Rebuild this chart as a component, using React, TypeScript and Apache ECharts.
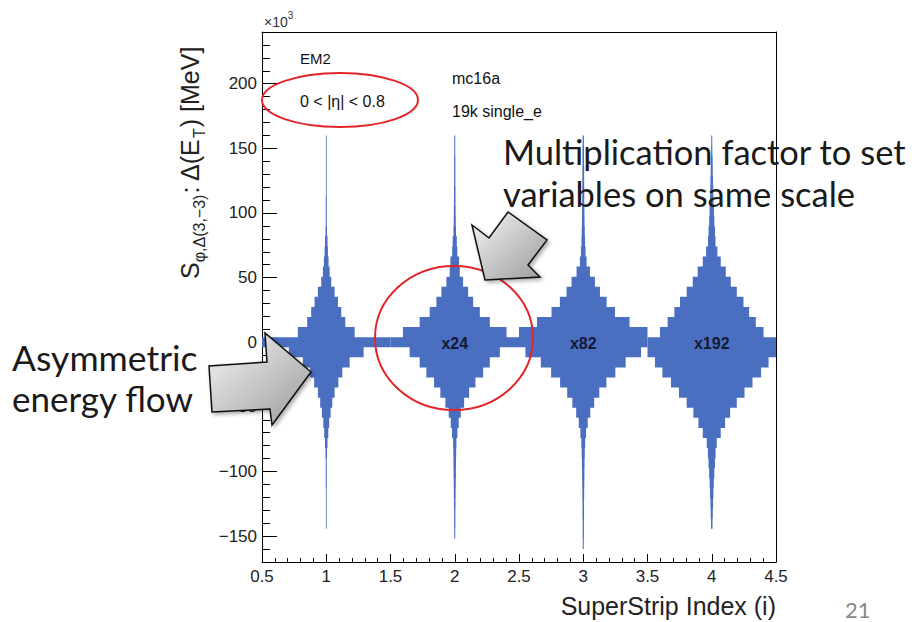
import React, { useEffect, useRef } from 'react';
import * as echarts from 'echarts';

// Super-strip positions (x) and the multiplication factors written on them
const superStrips = [1, 2, 3, 4];
const factorLabels = ['', 'x24', 'x82', 'x192'];

// y bins of the violin histograms (units of 10^3 MeV), top to bottom
const BIN_WIDTH = 7.8;
const binCenters = [
  156, 148.2, 140.4, 132.6, 124.8, 117, 109.2, 101.4, 93.6, 85.8,
  78, 70.2, 62.4, 54.6, 46.8, 39, 31.2, 23.4, 15.6, 7.8,
  0,
  -7.8, -15.6, -23.4, -31.2, -39, -46.8, -54.6, -62.4, -70.2, -78,
  -85.8, -93.6, -101.4, -109.2, -117, -124.8, -132.6, -140.4, -148.2, -156,
];

// half widths of each violin per bin (x units)
const strip1 = [
  0.003, 0.003, 0.003, 0.003, 0.003, 0.003, 0.004, 0.004, 0.004, 0.006,
  0.010, 0.013, 0.018, 0.026, 0.039, 0.065, 0.091, 0.117, 0.148, 0.221,
  0.5,
  0.291, 0.182, 0.125, 0.094, 0.065, 0.047, 0.034, 0.023, 0.016, 0.010,
  0.006, 0.004, 0.004, 0.004, 0.003, 0.003, 0.003, 0.003, 0, 0,
];
const strip2 = [
  0.004, 0.004, 0.005, 0.005, 0.005, 0.006, 0.006, 0.007, 0.008, 0.010,
  0.016, 0.020, 0.034, 0.039, 0.065, 0.104, 0.143, 0.195, 0.273, 0.403,
  0.5,
  0.351, 0.273, 0.221, 0.161, 0.112, 0.073, 0.047, 0.031, 0.021, 0.013,
  0.011, 0.010, 0.009, 0.008, 0.007, 0.006, 0.005, 0.005, 0.004, 0,
];
const strip3 = [
  0.005, 0.006, 0.006, 0.007, 0.007, 0.008, 0.008, 0.009, 0.010, 0.012,
  0.014, 0.018, 0.026, 0.052, 0.091, 0.130, 0.182, 0.247, 0.360, 0.5,
  0.5,
  0.45, 0.33, 0.25, 0.18, 0.125, 0.085, 0.055, 0.035, 0.022, 0.015,
  0.012, 0.010, 0.009, 0.008, 0.007, 0.006, 0.006, 0.005, 0.005, 0.004,
];
const strip4 = [
  0.004, 0.005, 0.007, 0.008, 0.010, 0.012, 0.014, 0.017, 0.020, 0.025,
  0.029, 0.044, 0.070, 0.109, 0.148, 0.195, 0.247, 0.291, 0.343, 0.403,
  0.5,
  0.5, 0.442, 0.384, 0.317, 0.255, 0.195, 0.143, 0.104, 0.070, 0.039,
  0.030, 0.025, 0.020, 0.016, 0.013, 0.010, 0.008, 0.006, 0, 0,
];
const violinWidths = [strip1, strip2, strip3, strip4];

const BLUE = '#4a6fc1';
const HELV = '"Liberation Sans", Arial, sans-serif';
const CAL = 'Lato, "Open Sans", sans-serif';

function textWidth(text: string, size: number, family: string, weight = 'normal') {
  const c = document.createElement('canvas').getContext('2d');
  if (!c) return text.length * size * 0.55;
  c.font = `${weight} ${size}px ${family}`;
  return c.measureText(text).width;
}

function yTitle() {
  const F = 25;
  const FS = 16;
  const pieces = [
    { t: 'S', s: F, sub: false },
    { t: 'φ,Δ(3,−3)', s: FS, sub: true },
    { t: ': Δ(E', s: F, sub: false },
    { t: 'T', s: FS, sub: true },
    { t: ') [MeV]', s: F, sub: false },
  ];
  let x = 0;
  const children: any[] = [];
  pieces.forEach((p) => {
    children.push({
      type: 'text',
      x,
      y: p.sub ? 9 : 0,
      style: {
        text: p.t,
        font: `${p.s}px ${HELV}`,
        fill: '#222',
        align: 'left',
        verticalAlign: 'middle',
      },
    });
    x += textWidth(p.t, p.s, HELV) + (p.sub ? 1 : 0);
  });
  return {
    type: 'group',
    x: 190,
    y: 279,
    rotation: Math.PI / 2,
    children,
    z: 50,
  };
}

function arrowFill() {
  return {
    type: 'linear',
    x: 0,
    y: 0,
    x2: 1,
    y2: 1,
    colorStops: [
      { offset: 0, color: '#f6f6f6' },
      { offset: 1, color: '#9a9a9a' },
    ],
  };
}

const AXIS_LINE = { show: true, onZero: false, lineStyle: { color: '#000', width: 1 } };

export default function App() {
  const ref = useRef<HTMLDivElement>(null);

  useEffect(() => {
    if (!ref.current) return;
    const chart = echarts.init(ref.current, null, { renderer: 'svg' });

    const seriesData = superStrips.map((x, i) => [x, i]);

    const option: any = {
      animation: false,
      backgroundColor: '#ffffff',
      grid: { left: 262, right: 142, top: 32, bottom: 60, containLabel: false },
      xAxis: [
        {
          type: 'value',
          min: 0.5,
          max: 4.5,
          interval: 0.5,
          position: 'bottom',
          axisLine: AXIS_LINE,
          axisTick: { show: true, inside: true, length: 8, lineStyle: { color: '#000' } },
          minorTick: { show: true, splitNumber: 5, length: 4, lineStyle: { color: '#000' } },
          axisLabel: { fontFamily: HELV, fontSize: 17, color: '#222', margin: 6 },
          splitLine: { show: false },
        },
        {
          type: 'value',
          min: 0.5,
          max: 4.5,
          position: 'top',
          axisLine: AXIS_LINE,
          axisTick: { show: false },
          axisLabel: { show: false },
          splitLine: { show: false },
        },
      ],
      yAxis: [
        {
          type: 'value',
          min: -170,
          max: 240,
          interval: 10,
          position: 'left',
          axisLine: AXIS_LINE,
          axisTick: { show: true, inside: true, length: 8, lineStyle: { color: '#000' } },
          axisLabel: { show: false },
          splitLine: { show: false },
        },
        {
          type: 'value',
          min: -170,
          max: 240,
          splitNumber: 8,
          position: 'left',
          offset: 0,
          axisLine: { show: false, onZero: false },
          axisTick: { show: true, inside: true, length: 15, lineStyle: { color: '#000' } },
          axisLabel: {
            fontFamily: HELV,
            fontSize: 17,
            color: '#222',
            margin: 5,
            formatter: (v: number) =>
              Math.abs(v % 50) < 1e-6 ? (v < 0 ? '\u2212' + Math.abs(v) : String(v)) : '',
          },
          splitLine: { show: false },
        },
        {
          type: 'value',
          min: -170,
          max: 240,
          position: 'right',
          axisLine: AXIS_LINE,
          axisTick: { show: false },
          axisLabel: { show: false },
          splitLine: { show: false },
        },
      ],
      series: [
        {
          type: 'custom',
          xAxisIndex: 0,
          yAxisIndex: 0,
          clip: true,
          data: seriesData,
          renderItem: (_params: any, api: any) => {
            const xc = api.value(0) as number;
            const idx = api.value(1) as number;
            const w = violinWidths[idx];
            let first = 0;
            while (first < w.length && !(w[first] > 0)) first++;
            let last = w.length - 1;
            while (last >= 0 && !(w[last] > 0)) last--;
            const right: number[][] = [];
            const left: number[][] = [];
            for (let i = first; i <= last; i++) {
              const hw = w[i];
              const top = binCenters[i] + BIN_WIDTH / 2;
              const bot = binCenters[i] - BIN_WIDTH / 2;
              right.push(api.coord([xc + hw, top]), api.coord([xc + hw, bot]));
              left.push(api.coord([xc - hw, top]), api.coord([xc - hw, bot]));
            }
            const points = right.concat(left.reverse());
            const c = api.coord([xc, 0]);
            return {
              type: 'group',
              children: [
                { type: 'polygon', shape: { points }, style: { fill: BLUE } },
                {
                  type: 'text',
                  x: c[0],
                  y: c[1] + 1,
                  style: {
                    text: factorLabels[idx],
                    font: `bold 16px ${HELV}`,
                    fill: '#141a33',
                    align: 'center',
                    verticalAlign: 'middle',
                  },
                },
              ],
            };
          },
        },
      ],
      graphic: [
        // x10^3 exponent
        { type: 'text', x: 264, y: 22, z: 50, style: { text: '×10', font: `14px ${HELV}`, fill: '#333', verticalAlign: 'middle' } },
        { type: 'text', x: 264 + textWidth('×10', 14, HELV), y: 15, z: 50, style: { text: '3', font: `10px ${HELV}`, fill: '#333', verticalAlign: 'middle' } },
        yTitle(),
        // x axis title
        { type: 'text', x: 776, y: 606, z: 50, style: { text: 'SuperStrip Index (i)', font: `25px ${HELV}`, fill: '#222', align: 'right', verticalAlign: 'middle' } },
        // legend-like labels
        { type: 'text', x: 300, y: 58, z: 50, style: { text: 'EM2', font: `15px ${HELV}`, fill: '#111', verticalAlign: 'middle' } },
        { type: 'text', x: 300, y: 101, z: 50, style: { text: '0 < |η| < 0.8', font: `16px ${HELV}`, fill: '#111', verticalAlign: 'middle' } },
        { type: 'text', x: 452, y: 78, z: 50, style: { text: 'mc16a', font: `16px ${HELV}`, fill: '#111', verticalAlign: 'middle' } },
        { type: 'text', x: 452, y: 111, z: 50, style: { text: '19k single_e', font: `16px ${HELV}`, fill: '#111', verticalAlign: 'middle' } },
        // red ellipses
        { type: 'ellipse', z: 60, shape: { cx: 340, cy: 100, rx: 78, ry: 27 }, style: { fill: 'none', stroke: '#e0262b', lineWidth: 2 } },
        { type: 'ellipse', z: 60, shape: { cx: 454, cy: 338, rx: 79, ry: 72 }, style: { fill: 'none', stroke: '#e0262b', lineWidth: 2 } },
        // block arrows
        {
          type: 'polygon',
          z: 70,
          shape: { points: [[311, 372], [272, 425], [270, 409], [212, 412], [209, 366], [267, 362], [265, 333]] },
          style: { fill: arrowFill(), stroke: '#111', lineWidth: 1.5, shadowBlur: 4, shadowColor: 'rgba(0,0,0,0.35)', shadowOffsetX: 2, shadowOffsetY: 2 },
        },
        {
          type: 'polygon',
          z: 70,
          shape: { points: [[485, 280], [540, 277], [528, 265], [547, 240], [508, 212], [489, 238], [472, 225]] },
          style: { fill: arrowFill(), stroke: '#111', lineWidth: 1.5, shadowBlur: 4, shadowColor: 'rgba(0,0,0,0.35)', shadowOffsetX: 2, shadowOffsetY: 2 },
        },
        // slide annotations
        { type: 'text', x: 503, y: 151, z: 80, style: { text: 'Multiplication factor to set', font: `34.5px ${CAL}`, fill: '#1a1a1a', verticalAlign: 'middle' } },
        { type: 'text', x: 503, y: 193, z: 80, style: { text: 'variables on same scale', font: `34.5px ${CAL}`, fill: '#1a1a1a', verticalAlign: 'middle' } },
        { type: 'text', x: 12, y: 357, z: 80, style: { text: 'Asymmetric', font: `35.5px ${CAL}`, fill: '#1a1a1a', verticalAlign: 'middle' } },
        { type: 'text', x: 12, y: 398, z: 80, style: { text: 'energy flow', font: `35px ${CAL}`, fill: '#1a1a1a', verticalAlign: 'middle' } },
        { type: 'text', x: 845, y: 609, z: 80, style: { text: '21', font: `22px ${CAL}`, fill: '#888', verticalAlign: 'middle' } },
      ],
    };

    chart.setOption(option);
    return () => chart.dispose();
  }, []);

  return (
    <div
      ref={ref}
      style={{ position: 'absolute', left: 0, top: 0, width: 918, height: 622, background: '#fff' }}
    />
  );
}
